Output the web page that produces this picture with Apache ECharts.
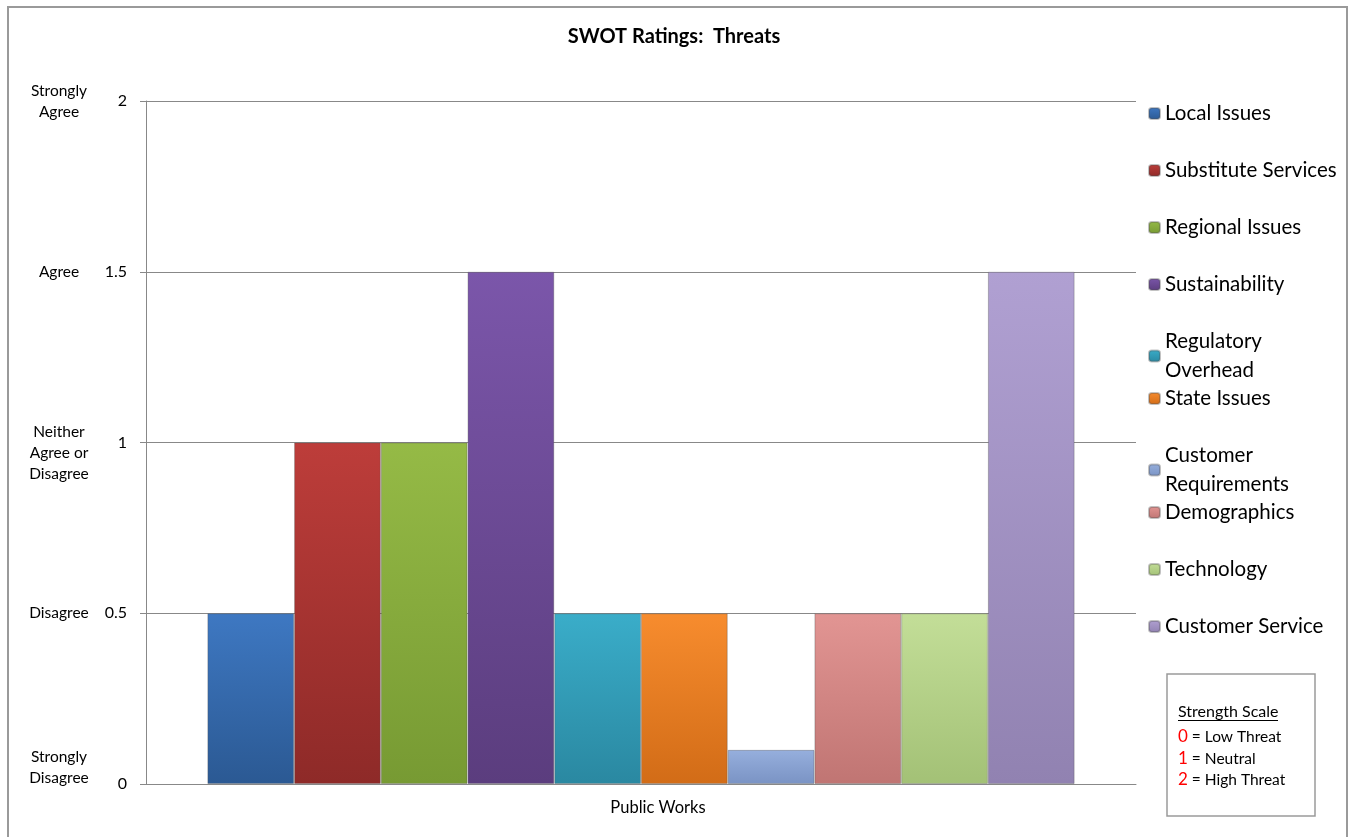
<!DOCTYPE html>
<html lang="en">
<head>
    <meta charset="UTF-8">
    <title>SWOT Ratings: Threats</title>
    <script src="https://cdn.jsdelivr.net/npm/echarts@6.0.0/dist/echarts.min.js"></script>
    <style>
        html, body { margin: 0; padding: 0; background: #fff; }
    </style>
</head>
<body>
    <div id="main" style="width: 1348px; height: 837px;"></div>

    <script>
        var chart = echarts.init(document.getElementById('main'));

        // data
        var categories = ['Public Works'];
        var seriesNames = ['Local Issues', 'Substitute Services', 'Regional Issues', 'Sustainability',
            'Regulatory Overhead', 'State Issues', 'Customer Requirements', 'Demographics',
            'Technology', 'Customer Service'];
        var seriesValues = [0.5, 1, 1, 1.5, 0.5, 0.5, 0.1, 0.5, 0.5, 1.5];
        var yTicks = [0, 0.5, 1, 1.5, 2];
        var yLevelLabels = ['Strongly\nDisagree\n{e|}', 'Disagree', '\nNeither\nAgree or\nDisagree', 'Agree', 'Strongly\nAgree'];
        var scaleLines = [['0', ' = Low Threat'], ['1', ' = Neutral'], ['2', ' = High Threat']];

        // bar colours (top, bottom)
        var barColors = [
            ['#3e78c2', '#2b5993'],
            ['#bd3d3a', '#8e2a28'],
            ['#95ba46', '#779a33'],
            ['#7b56aa', '#5b3d7e'],
            ['#3aadc9', '#2a88a1'],
            ['#f78c2e', '#d26c17'],
            ['#96afdd', '#7a93c4'],
            ['#e29593', '#c07573'],
            ['#c3de98', '#a3c176'],
            ['#b0a0d2', '#9182b1']
        ];

        var FONT = 'Lato, "Liberation Sans", sans-serif';

        var series = seriesNames.map(function (name, i) {
            return {
                name: name,
                type: 'bar',
                barGap: '0%',
                barCategoryGap: '12.4%',
                data: [seriesValues[i]],
                itemStyle: {
                    color: new echarts.graphic.LinearGradient(0, 0, 0, 1, [
                        {offset: 0, color: barColors[i][0]},
                        {offset: 1, color: barColors[i][1]}
                    ]),
                    borderColor: 'rgba(80,80,80,0.35)',
                    borderWidth: 1
                }
            };
        });

        // legend: one per item so the spacing stays even
        var legendTops = [97, 154, 211, 268, 322, 382, 436, 496, 553, 610];
        var legends = seriesNames.map(function (name, i) {
            var twoLine = name === 'Regulatory Overhead' || name === 'Customer Requirements';
            return {
                data: [name],
                orient: 'vertical',
                left: 1143,
                top: legendTops[i],
                itemWidth: 11,
                itemHeight: 11,
                itemGap: 0,
                selectedMode: false,
                formatter: function (n) {
                    return n.replace('Regulatory Overhead', 'Regulatory\nOverhead')
                        .replace('Customer Requirements', 'Customer\nRequirements');
                },
                textStyle: {
                    fontFamily: FONT,
                    fontSize: 20.5,
                    color: '#000',
                    lineHeight: twoLine ? 29 : 23
                }
            };
        });

        var option = {
            animation: false,
            title: {
                text: 'SWOT Ratings:  Threats',
                left: 'center',
                top: 22,
                textStyle: {
                    fontFamily: FONT,
                    fontSize: 20,
                    fontWeight: 'bold',
                    color: '#000'
                }
            },
            legend: legends,
            grid: {
                left: 146,
                right: 212,
                top: 101,
                bottom: 53,
                containLabel: false
            },
            xAxis: {
                type: 'category',
                data: categories,
                axisLine: {lineStyle: {color: '#888'}},
                axisTick: {show: false},
                axisLabel: {
                    fontFamily: FONT,
                    fontSize: 16.5,
                    color: '#000',
                    margin: 15,
                    padding: [0, 0, 0, 34]
                }
            },
            yAxis: [
                {
                    type: 'value',
                    min: 0,
                    max: 2,
                    interval: 0.5,
                    axisLine: {show: true, lineStyle: {color: '#888'}},
                    axisTick: {show: true, length: 6, lineStyle: {color: '#888'}},
                    splitLine: {lineStyle: {color: '#888', width: 1}},
                    axisLabel: {
                        fontFamily: FONT,
                        fontSize: 16,
                        color: '#000',
                        margin: 19
                    }
                },
                {
                    type: 'value',
                    position: 'left',
                    min: 0,
                    max: 2,
                    interval: 0.5,
                    axisLine: {show: false},
                    axisTick: {show: false},
                    splitLine: {show: false},
                    axisLabel: {
                        fontFamily: FONT,
                        fontSize: 15.5,
                        lineHeight: 21,
                        color: '#000',
                        align: 'center',
                        margin: 87,
                        rich: {
                            e: {lineHeight: 33, fontSize: 10}
                        },
                        formatter: function (v) {
                            var idx = yTicks.indexOf(v);
                            return idx >= 0 ? yLevelLabels[idx] : '';
                        }
                    }
                }
            ],
            series: series,
            graphic: [
                {
                    type: 'rect',
                    shape: {x: 8, y: 7, width: 1339, height: 840},
                    style: {fill: 'none', stroke: '#9a9a9a', lineWidth: 2},
                    silent: true,
                    z: -1
                },
                {
                    type: 'rect',
                    shape: {x: 1167, y: 674, width: 148, height: 142},
                    style: {fill: '#fff', stroke: '#9a9a9a', lineWidth: 1.5},
                    silent: true
                },
                {
                    type: 'text',
                    x: 1178,
                    y: 712,
                    style: {
                        text: 'Strength Scale',
                        font: '16px ' + FONT,
                        fill: '#000',
                        verticalAlign: 'middle'
                    },
                    silent: true
                },
                {
                    type: 'line',
                    shape: {x1: 1178, y1: 720.5, x2: 1278, y2: 720.5},
                    style: {stroke: '#000', lineWidth: 1},
                    silent: true
                }
            ].concat(scaleLines.map(function (l, i) {
                return {
                    type: 'text',
                    x: 1178,
                    y: 737 + i * 21.5,
                    style: {
                        text: '{r|' + l[0] + '}{t|' + l[1] + '}',
                        verticalAlign: 'middle',
                        rich: {
                            r: {fontFamily: FONT, fontSize: 17, fill: '#ff0000'},
                            t: {fontFamily: FONT, fontSize: 15.5, fill: '#000'}
                        }
                    },
                    silent: true
                };
            }))
        };

        chart.setOption(option);
    </script>
</body>
</html>
